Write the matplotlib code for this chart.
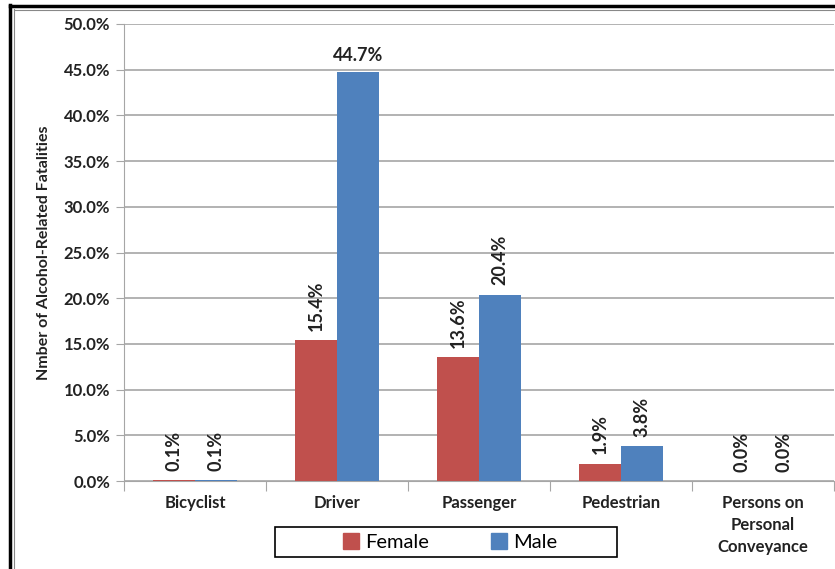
import matplotlib
matplotlib.use("Agg")
import matplotlib.pyplot as plt
import numpy as np
from matplotlib.lines import Line2D
from matplotlib.patches import Rectangle, Patch

categories = ["Bicyclist", "Driver", "Passenger", "Pedestrian", "Persons on\nPersonal\nConveyance"]
female = [0.1, 15.4, 13.6, 1.9, 0.0]
male = [0.1, 44.7, 20.4, 3.8, 0.0]
female_labels = ["0.1%", "15.4%", "13.6%", "1.9%", "0.0%"]
male_labels = ["0.1%", "44.7%", "20.4%", "3.8%", "0.0%"]
yticks = [0, 5, 10, 15, 20, 25, 30, 35, 40, 45, 50]

plt.rcParams['font.family'] = ['Lato', 'DejaVu Sans']

W, H = 835, 569
fig = plt.figure(figsize=(W / 100, H / 100), dpi=100)
ax = fig.add_axes([124 / W, 1 - 481 / H, (834 - 124) / W, (481 - 24) / H])

x = np.arange(len(categories))
bw = 0.295
c_f = "#C0504D"
c_m = "#4F81BD"
ax.bar(x - bw / 2, female, bw, color=c_f, zorder=3)
ax.bar(x + bw / 2, male, bw, color=c_m, zorder=3)

ax.set_xlim(-0.5, len(categories) - 0.5)
ax.set_ylim(0, 50)
ax.set_yticks(yticks)
ax.set_yticklabels([f"{v:.1f}%" for v in yticks], fontsize=12, fontweight='bold', color='#222222')
ax.yaxis.grid(True, color='#a6a6a6', lw=1.2, zorder=0)
ax.set_axisbelow(True)
for s in ['top', 'right']:
    ax.spines[s].set_visible(False)
ax.spines['left'].set_color('#a6a6a6')
ax.spines['bottom'].set_color('#a6a6a6')
ax.tick_params(axis='y', length=6, color='#a6a6a6', pad=4)

ax.set_xticks(np.arange(-0.5, len(categories), 1.0), minor=False)
ax.set_xticklabels([])
ax.tick_params(axis='x', length=7, color='#a6a6a6', direction='out')
ax.set_xticks(x, minor=True)
ax.set_xticklabels(categories, minor=True, fontsize=12, fontweight='bold', color='#222222', linespacing=1.45)
ax.tick_params(axis='x', which='minor', length=0, pad=10)

ax.set_ylabel("Nmber of Alcohol-Related Fatalities", fontsize=11.5, fontweight='bold', color='#222222', labelpad=9)

off = 1.0
for i in range(len(categories)):
    ax.text(x[i] - bw / 2, female[i] + off, female_labels[i], rotation=90, ha='center', va='bottom',
            fontsize=13, fontweight='bold', color='#222222', zorder=4)
    if male[i] > 40:
        ax.text(x[i] + bw / 2, male[i] + 0.9, male_labels[i], ha='center', va='bottom',
                fontsize=13, fontweight='bold', color='#222222', zorder=4)
    else:
        ax.text(x[i] + bw / 2, male[i] + off, male_labels[i], rotation=90, ha='center', va='bottom',
                fontsize=13, fontweight='bold', color='#222222', zorder=4)

# legend box
fig.patches.append(Rectangle((275 / W, 1 - 557 / H), (617 - 275) / W, (557 - 527) / H,
                             transform=fig.transFigure, fill=False, edgecolor='black', lw=1.2))
handles = [Patch(color=c_f, label="Female"), Patch(color=c_m, label="Male")]
fig.legend(handles=handles, loc='center', bbox_to_anchor=(450 / W, 1 - 542 / H), ncol=2, frameon=False,
           handlelength=0.8, handleheight=0.8, handletextpad=0.3, columnspacing=3.1,
           prop={'size': 14.5})

# outer border (left and top)
fig.add_artist(Line2D([10 / W, 10 / W], [0, 1 - 5 / H], transform=fig.transFigure, color='black', lw=2.5))
fig.add_artist(Line2D([14 / W, 14 / W], [0, 1 - 9 / H], transform=fig.transFigure, color='#888888', lw=0.8))
fig.add_artist(Line2D([10 / W, 1], [1 - 6 / H, 1 - 6 / H], transform=fig.transFigure, color='black', lw=2.5))
fig.add_artist(Line2D([14 / W, 1], [1 - 10 / H, 1 - 10 / H], transform=fig.transFigure, color='#888888', lw=0.8))

fig.savefig("out.png", dpi=100)
